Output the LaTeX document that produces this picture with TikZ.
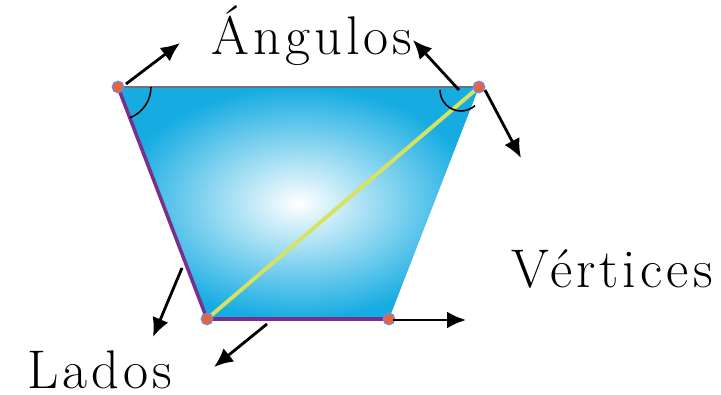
\documentclass[tikz,border=0pt]{standalone}
\usepackage{fontspec}
\usetikzlibrary{arrows.meta}
\newfontfamily\wordfont{Latin Modern Roman}[LetterSpace=7.5]
\definecolor{trapblue}{RGB}{22,172,226}
\definecolor{edgepurple}{RGB}{120,48,140}
\definecolor{edgegray}{RGB}{105,115,125}
\definecolor{diaggreen}{RGB}{214,226,96}
\definecolor{dotorange}{RGB}{240,100,40}
\definecolor{dotring}{RGB}{140,125,205}
\tikzset{
  pointer/.style={->, line width=1.6pt},
  corner/.style={fill=dotorange, draw=dotring, line width=1pt},
  word/.style={anchor=base, inner sep=0pt, font=\wordfont\fontsize{31}{34}\selectfont}
}
\begin{document}
\begin{tikzpicture}[x=0.02cm, y=0.02cm, >={Latex[length=0.38cm,width=0.34cm]}]
  \useasboundingbox (0,0) rectangle (721,395);

  % Points
  \coordinate (TL) at (118,308);
  \coordinate (TR) at (479,308);
  \coordinate (BR) at (389,76);
  \coordinate (BL) at (207,76);
  \coordinate (ac) at (461,305);

  % Trapezoid
  \shade[inner color=white, outer color=trapblue] (TL) -- (TR) -- (BR) -- (BL) -- cycle;
  \draw[edgegray, line width=1.2pt] (TL) -- (TR);
  \draw[edgepurple, line width=2pt] (TL) -- (BL) -- (BR);
  \draw[diaggreen, line width=2.2pt] (BL) -- (TR);

  % Angle arcs
  \draw[line width=0.9pt] ([shift={(0:0.66cm)}]TL) arc (0:-69:0.66cm);
  \draw[line width=0.9pt] ([shift={(180:0.42cm)}]ac) arc (180:312:0.42cm);

  % Corners
  \foreach \v in {TL,TR,BR,BL}
    \path[corner] (\v) circle (0.11cm);

  % Labels
  \node[word] (angulos) at (312,340) {Ángulos};
  \node[word] (vertices) at (612,107) {Vértices};
  \node[word] (lados) at (100,6) {Lados};

  % Arrow ends
  \coordinate (t1) at (126,311); \coordinate (h1) at (180,352);
  \coordinate (t2) at (459,305); \coordinate (h2) at (413,355);
  \coordinate (t3) at (485,305); \coordinate (h3) at (521,237);
  \coordinate (t4) at (182,127); \coordinate (h4) at (153,58);
  \coordinate (t5) at (267,71);  \coordinate (h5) at (214,28);
  \coordinate (t6) at (393,75);  \coordinate (h6) at (466,75);

  % Arrows
  \foreach \i in {1,...,6}
    \draw[pointer] (t\i) -- (h\i);
\end{tikzpicture}
\end{document}
